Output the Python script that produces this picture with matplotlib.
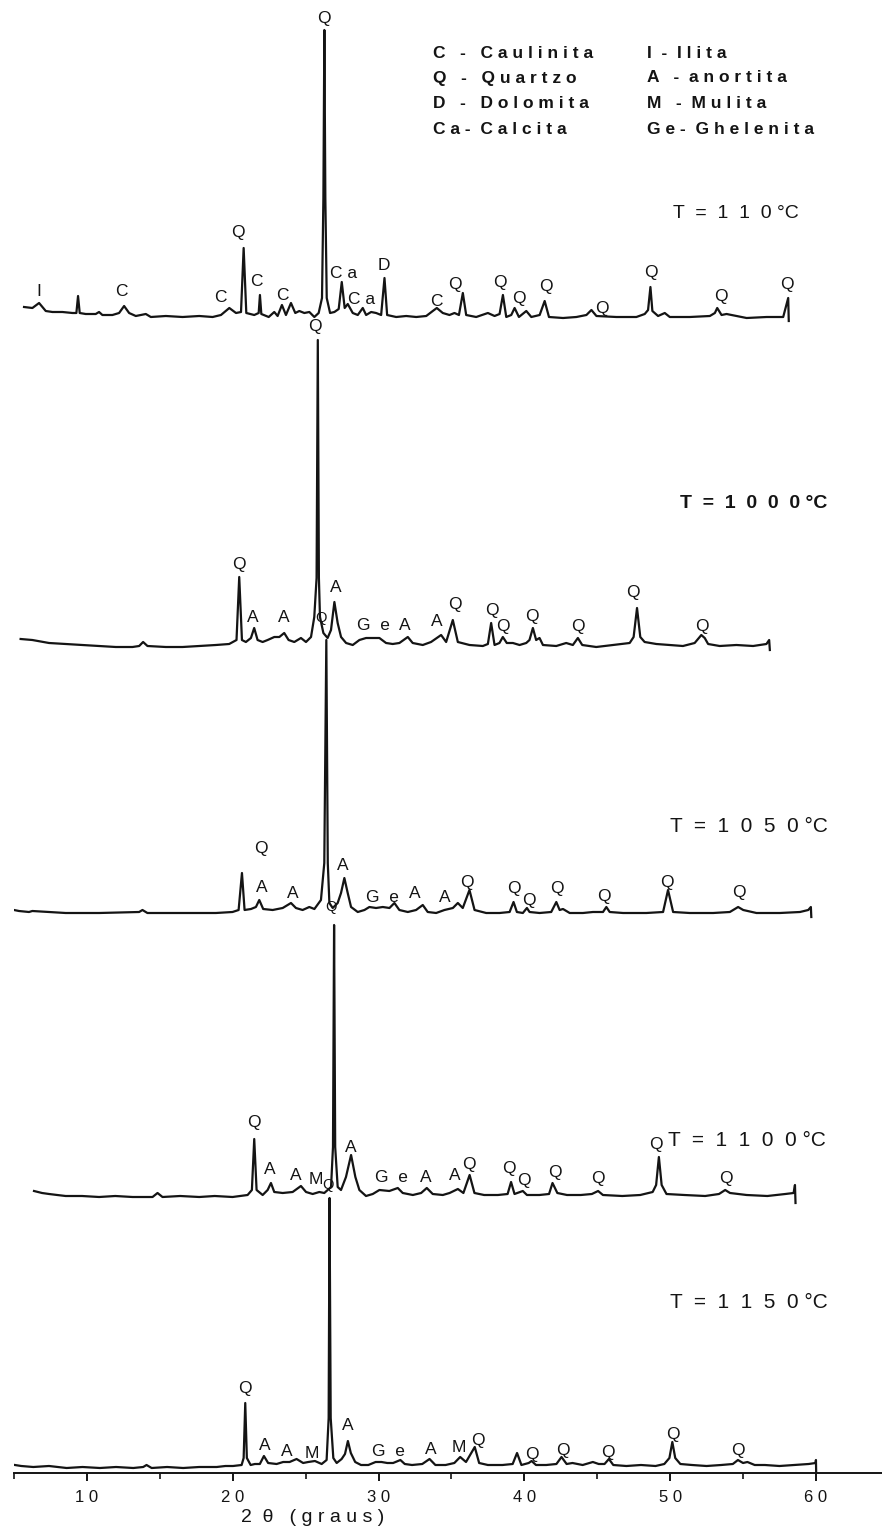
import matplotlib
matplotlib.use("Agg")
import matplotlib.pyplot as plt

plt.rcParams['font.family'] = ['Liberation Sans', 'DejaVu Sans']

W, H = 882, 1531
INK = '#141414'

x110 = [5.11,5.71,6.19,6.67,7.15,7.87,8.59,8.87,8.99,9.11,9.54,10.26,10.50,10.74,11.46,11.94,12.30,12.66,13.14,13.86,
        14.22,15.30,16.50,17.70,18.66,19.26,19.86,20.34,20.70,20.89,21.08,21.65,21.97,22.06,22.16,22.69,23.09,23.33,23.64,23.93,
        24.29,24.60,24.89,25.25,25.61,25.97,26.28,26.52,26.62,26.69,26.76,26.86,27.10,27.41,27.72,27.94,28.15,28.37,28.73,29.09,
        29.45,29.69,30.05,30.41,30.77,31.01,31.20,31.85,32.57,33.29,34.01,34.48,34.77,35.20,35.68,36.04,36.36,36.64,36.88,37.60,
        38.44,38.92,39.28,39.52,39.76,40.12,40.36,40.67,41.20,41.56,42.16,42.52,42.83,43.84,44.80,45.52,45.88,46.24,47.67,49.11,
        49.71,49.95,50.12,50.26,50.67,51.15,51.51,52.95,54.39,54.75,54.92,55.23,55.59,57.03,58.47,59.66,60.02,60.06]
y110 = [11,10,15,7,6,6,5,5,22,5,4,4,6,3,3,5,12,5,2,4,
        1,2,1,2,1,3,10,5,6,70,5,3,5,23,4,1,6,2,13,3,
        15,5,7,5,6,1,5,20,120,288,120,20,5,6,9,36,10,14,5,3,
        10,3,6,5,3,40,3,1,2,1,2,7,10,5,3,5,3,25,3,1,
        5,2,4,23,1,3,10,1,7,1,3,17,1,0,1,3,8,2,1,1,
        4,8,31,7,2,5,1,1,2,5,10,3,4,0,1,1,20,-3]

x1000 = [4.78,5.64,6.87,8.10,9.32,10.55,11.78,13.01,13.50,13.79,14.11,15.46,16.69,17.92,19.14,20.12,20.66,20.86,21.06,21.35,
         21.72,21.96,22.21,22.58,22.95,23.44,23.81,24.17,24.49,24.91,25.40,25.77,26.14,26.38,26.55,26.64,26.72,26.80,27.05,27.36,
         27.61,27.86,28.10,28.35,28.72,29.21,29.70,30.19,30.68,31.17,31.66,32.15,32.64,33.26,33.62,34.36,34.97,35.71,36.08,36.57,
         36.94,37.80,38.78,39.15,39.39,39.64,40.00,40.25,40.54,40.99,41.48,41.97,42.21,42.46,42.70,42.95,43.20,44.18,44.91,45.40,
         45.77,46.09,47.12,48.35,49.58,49.87,50.12,50.36,50.68,51.54,52.52,53.50,54.36,54.73,54.85,55.10,55.35,56.20,57.43,58.66,
         59.64,59.84,59.89]
y1000 = [9,8,5,4,3,2,1,1,2,6,2,1,1,2,3,4,8,71,8,6,
         10,20,8,6,8,11,11,15,8,6,10,6,11,31,70,308,70,31,15,10,
         18,46,25,11,5,3,8,10,10,10,5,4,5,11,5,3,6,13,6,28,
         6,3,2,4,25,3,5,11,5,5,3,5,8,20,8,10,3,2,5,3,
         10,3,1,3,5,11,40,11,6,4,3,2,5,11,13,10,4,2,3,2,
         4,8,-2]

x1050 = [4.83,5.51,6.20,6.43,8.72,11.02,13.77,14.00,14.34,16.75,19.05,20.19,20.61,20.84,21.02,21.46,21.80,22.03,22.30,22.95,
         23.64,24.21,24.55,25.01,25.47,25.82,26.27,26.50,26.64,26.74,26.85,27.08,27.42,27.65,27.88,28.11,28.34,28.80,29.26,29.60,
         30.06,30.52,30.98,31.32,31.66,32.24,32.81,33.27,33.61,34.19,34.76,35.34,35.68,36.02,36.48,36.83,37.63,38.55,39.24,39.51,
         39.74,40.15,40.43,40.61,41.30,42.10,42.45,42.68,42.91,43.37,44.28,44.97,45.66,45.89,46.12,47.04,48.64,49.79,50.13,50.48,
         51.62,53.23,54.38,54.95,55.30,56.21,57.82,59.20,59.77,59.95,59.98]
y1050 = [4,2,1,2,0,0,1,3,0,0,0,1,3,40,3,4,6,13,4,3,
         5,10,5,3,6,4,13,50,273,50,10,5,10,20,35,20,6,1,3,6,
         5,6,5,10,3,1,3,8,1,0,3,5,10,5,23,3,0,0,1,11,
         1,0,5,1,0,1,11,3,4,0,0,1,1,6,1,0,0,1,23,1,
         0,0,1,6,3,0,0,1,3,6,-4]

x1100 = [4.92,5.50,6.01,6.60,7.21,8.40,9.63,10.80,12.05,13.50,13.86,14.22,15.50,16.88,18.00,19.29,20.38,20.69,20.86,21.03,
         21.47,21.83,22.07,22.31,22.92,23.64,24.24,24.61,25.09,25.57,25.93,26.42,26.56,26.64,26.72,26.90,27.14,27.50,27.87,28.18,
         28.47,28.95,29.44,29.92,30.64,31.25,31.61,32.34,32.94,33.35,33.78,34.51,35.00,35.60,36.00,36.45,36.80,37.50,38.50,39.20,
         39.45,39.70,40.30,40.60,41.50,42.20,42.45,42.80,43.50,44.50,45.30,45.75,46.10,47.50,48.80,49.70,49.95,50.15,50.35,50.70,
         52.00,53.50,54.50,54.95,55.30,56.50,58.00,59.30,59.90,60.00,60.04]
y1100 = [6,4,3,2,1,1,0,1,0,0,4,0,1,0,1,0,2,7,58,7,
         2,7,14,5,4,5,11,5,3,5,4,10,50,272,50,10,7,20,42,20,
         7,1,3,7,6,9,4,2,4,9,3,2,4,8,4,22,4,2,2,3,
         15,3,6,2,2,3,14,4,2,2,3,6,2,1,2,5,12,40,12,3,
         2,1,3,7,4,2,1,3,4,12,-6]

x1150 = [5.06,5.50,6.32,7.40,8.61,9.70,10.89,12.00,13.18,13.86,14.09,14.44,15.50,16.60,17.70,18.90,19.50,20.02,20.61,20.75,
         20.86,20.97,21.23,21.52,21.86,22.14,22.43,23.01,23.46,23.90,24.38,24.83,25.18,25.64,26.10,26.44,26.58,26.64,26.72,26.90,
         27.13,27.47,27.70,27.90,28.10,28.40,28.80,29.30,29.80,30.20,30.60,31.00,31.50,31.80,32.30,33.00,33.50,33.90,34.60,35.20,
         35.60,36.00,36.60,36.90,37.50,38.50,39.20,39.50,39.80,40.30,40.50,40.80,41.50,42.20,42.55,42.90,43.30,44.00,44.70,45.10,
         45.50,45.80,46.10,47.00,48.00,49.00,49.60,49.95,50.15,50.35,50.70,51.50,52.50,53.50,54.30,54.65,55.00,55.30,55.80,56.50,
         57.50,58.50,59.50,59.97,60.00,60.02]
y1150 = [3,2,1,2,0,1,0,1,0,1,3,0,1,0,1,1,2,2,3,10,
         65,10,3,4,4,12,5,4,6,6,9,5,6,7,4,8,50,270,50,10,
         5,9,14,27,15,6,3,3,6,6,5,5,8,4,3,4,9,3,3,5,
         11,6,21,5,3,3,4,15,3,5,7,3,3,4,11,4,5,3,6,4,
         4,9,3,2,3,2,4,10,26,10,4,3,2,3,4,8,5,6,3,3,
         2,3,4,5,8,-8]

# ---------------- phase labels (text, 2theta, intensity) -------------
lab110 = ["I","C","C","Q","C","C","C a","C a","D","C","Q","Q","Q","Q","Q","Q","Q","Q","Q"]
lab110_x = [6.19,12.09,19.21,20.50,21.80,23.67,28.1,29.35,31.0,34.75,36.04,39.28,40.65,42.59,46.6,50.14,55.18,59.93,26.69]
lab110_y = [26,26,21,85,36,22,45,18,52,16,33,36,20,31,10,46,22,34,300]

lab1000 = ["Q","A","A","A","G  e","A","A","Q","Q","Q","Q","Q","Q","Q","Q"]
lab1000_x = [20.86,21.89,24.17,27.99,30.73,33.01,35.37,36.69,39.42,40.23,42.36,45.75,49.8,54.88,26.46]
lab1000_y = [83,31,30,60,23,23,26,43,38,21,31,21,55,21,321]

lab1050 = ["Q","A","A","A","G  e","A","A","Q","Q","Q","Q","Q","Q","Q","Q"]
lab1050_x = [22.17,22.17,24.30,27.77,30.5,32.7,34.76,36.27,39.51,40.54,42.47,45.70,50.04,55.0,26.3]
lab1050_y = [65,26,20,48,15,20,16,30,25,12,24,16,31,21,295]

lab1100 = ["Q","A","A","M","A","G  e","A","A","Q","Q","Q","Q","Q","Q","Q","Q"]
lab1100_x = [20.86,22.0,23.9,25.35,27.88,30.8,33.3,35.35,36.37,39.27,40.36,42.6,45.7,49.9,55.0,26.44]
lab1100_y = [74,28,21,18,50,20,20,22,32,29,17,25,19,52,19,290]

lab1150 = ["Q","A","A","M","A","G  e","A","M","Q","Q","Q","Q","Q","Q","Q"]
lab1150_x = [20.86,22.17,23.7,25.43,27.9,30.7,33.56,35.48,36.82,40.52,42.63,45.72,50.16,54.65,26.53]
lab1150_y = [80,23,16,15,43,16,18,20,28,13,18,16,33,18,283]

temps = ["T  =  1  1  0 °C", "T  =  1  0  0  0 °C", "T  =  1  0  5  0 °C",
         "T  =  1  1  0  0 °C", "T  =  1  1  5  0 °C"]

legend_left = ["C   -   C a u l i n i t a", "Q   -   Q u a r t z o", "D   -   D o l o m i t a", "C a -  C a l c i t a"]
legend_right = ["I  -  I l i t a", "A   -  a n o r t i t a", "M   -  M u l i t a", "G e -  G h e l e n i t a"]

xticks = [10, 20, 30, 40, 50, 60]
xtick_labels = ["1 0", "2 0", "3 0", "4 0", "5 0", "6 0"]
xminor = [5, 15, 25, 35, 45, 55]
xlabel = "2  θ   ( g r a u s )"

# ---------------- layout (each scan panel has its own 2theta scale) -------------
traces = [
    (x110, y110, lab110, lab110_x, lab110_y, 1155, (4.388, 66.76)),
    (x1000, y1000, lab1000, lab1000_x, lab1000_y, 825, (4.293, 68.14)),
    (x1050, y1050, lab1050, lab1050_x, lab1050_y, 560, (5.169, 64.84)),
    (x1100, y1100, lab1100, lab1100_x, lab1100_y, 276, (3.471, 66.30)),
    (x1150, y1150, lab1150, lab1150_x, lab1150_y, 5, (5.000, 64.53)),
]

fig = plt.figure(figsize=(W / 100, H / 100), dpi=100)
fig.patch.set_facecolor('white')

rect = [14 / W, 58 / H, 868 / W, 1473 / H]
axes = []
for i, (xs, ys, labs, lx, ly, off, xl) in enumerate(traces):
    ax = fig.add_axes(rect, label=f"trace{i}")
    ax.set_facecolor('none')
    ax.set_xlim(*xl)
    ax.set_ylim(0, 1473)
    ax.plot(xs, [v + off for v in ys], color=INK, lw=1.6, solid_joinstyle='round')
    for s, tx, ty in zip(labs, lx, ly):
        fs = 10.5 if ty > 250 and i > 1 else 12.5
        ax.text(tx, ty + off, s, ha='center', va='center', fontsize=fs, color=INK)
    for sp in ax.spines.values():
        sp.set_visible(False)
    ax.set_yticks([])
    ax.set_xticks([])
    axes.append(ax)

axb = axes[-1]
axb.spines['bottom'].set_visible(True)
axb.spines['bottom'].set_linewidth(1.4)
axb.spines['bottom'].set_color(INK)
axb.set_xticks(xticks)
axb.set_xticklabels(xtick_labels, fontsize=12, color=INK)
axb.set_xticks(xminor, minor=True)
axb.tick_params(axis='x', which='major', direction='out', length=6, width=1.4, pad=6, colors=INK)
axb.tick_params(axis='x', which='minor', direction='out', length=4, width=1.2, colors=INK)

fig.text(313 / W, 1 - 1517 / H, xlabel, ha='center', va='center', fontsize=14, color=INK)

# temperature captions
tpos = [(673, 213, 14, 'normal'), (680, 503, 14, 'bold'), (670, 826, 15, 'normal'),
        (668, 1140, 15, 'normal'), (670, 1302, 15, 'normal')]
for s, (px, py, fs, fw) in zip(temps, tpos):
    fig.text(px / W, 1 - py / H, s, ha='left', va='center', fontsize=fs, fontweight=fw, color=INK)

# legend block
rows = [53, 78, 104, 129]
for s, py in zip(legend_left, rows):
    fig.text(433 / W, 1 - py / H, s, ha='left', va='center', fontsize=12.5, fontweight='bold', color=INK)
for s, py in zip(legend_right, rows):
    fig.text(647 / W, 1 - py / H, s, ha='left', va='center', fontsize=12.5, fontweight='bold', color=INK)

fig.savefig("out.png", dpi=100, facecolor='white')
